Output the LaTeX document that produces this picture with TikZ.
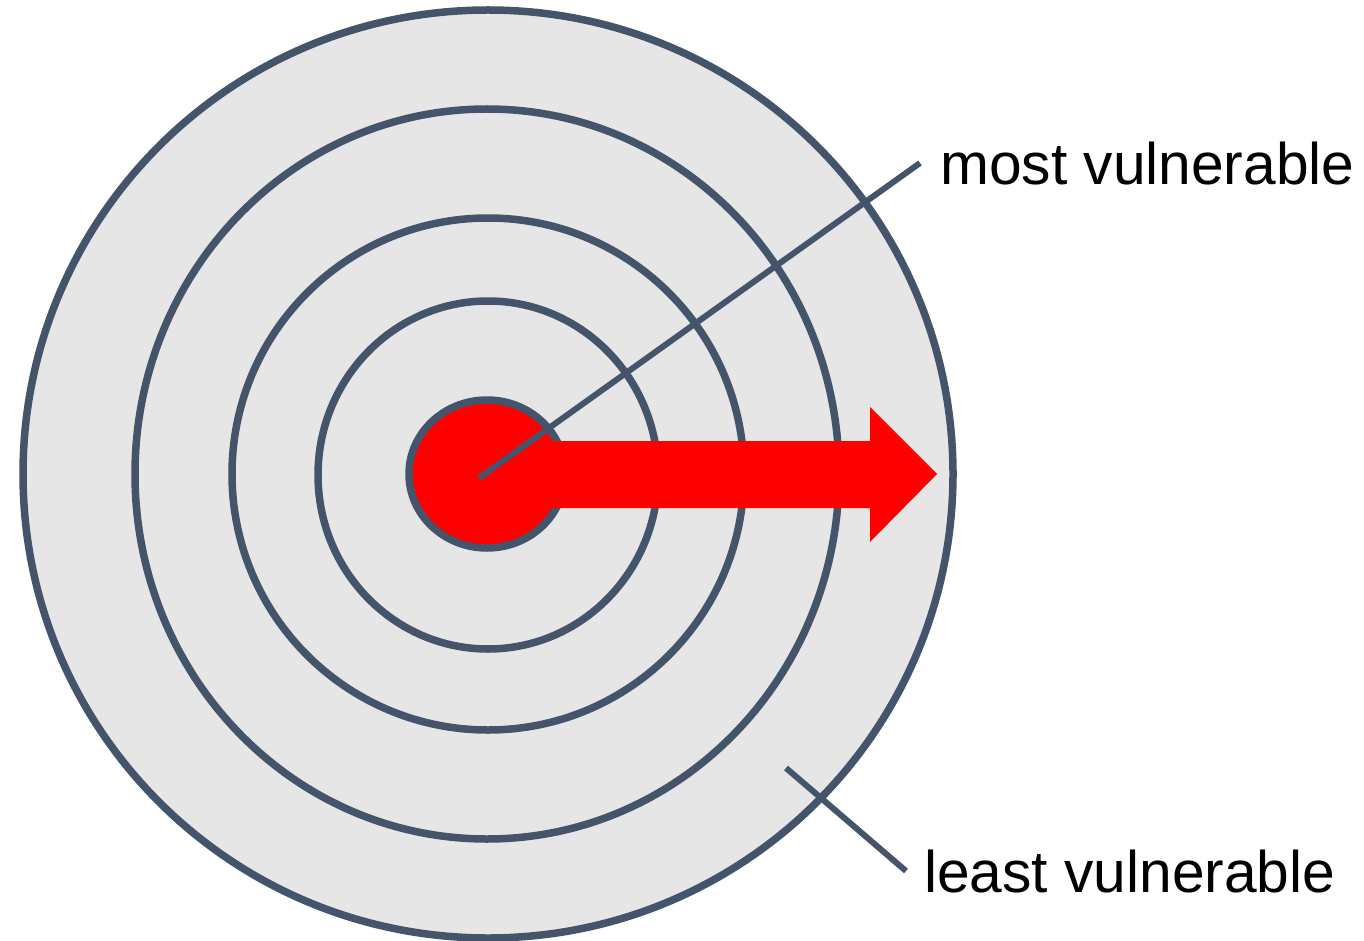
\documentclass[tikz,border=0pt]{standalone}
\usepackage{fontspec}
\setmainfont{Liberation Sans}
\definecolor{ringc}{HTML}{44546A}
\definecolor{fillc}{HTML}{E6E6E6}
\definecolor{redc}{HTML}{FF0000}
\tikzset{
  ring/.style={draw=ringc, line width=7.5pt, fill=fillc},
  core/.style={draw=ringc, line width=7.5pt, fill=redc},
  pointer/.style={draw=ringc, line width=6pt},
  label/.style={inner sep=0pt, anchor=base west, font=\fontsize{58.7}{70}\selectfont}
}
\begin{document}
\begin{tikzpicture}[x=1pt,y=-1pt]
\useasboundingbox (0,0) rectangle (1364,941);
% rings
\draw[ring] (488,474) ellipse [x radius=465, y radius=464];
\draw[ring] (487,474) ellipse [x radius=352, y radius=365];
\draw[ring] (488,474) ellipse [x radius=256, y radius=256];
\draw[ring] (488,475) ellipse [x radius=170, y radius=174];
\draw[core] (487,474) ellipse [x radius=78, y radius=74];
% arrow
\fill[redc] (487,441) -- (870,441) -- (870,407) -- (937,474) -- (870,542) -- (870,508) -- (487,508) -- cycle;
% labels
\node[label] (most) at (940,185) {most vulnerable};
\node[label] (least) at (924,892) {least vulnerable};
\coordinate (mostA) at (479,478);
\coordinate (mostB) at (920,163);
\coordinate (leastA) at (786,768);
\coordinate (leastB) at (906,871);
\draw[pointer] (mostA) -- (mostB);
\draw[pointer] (leastA) -- (leastB);
\end{tikzpicture}
\end{document}
